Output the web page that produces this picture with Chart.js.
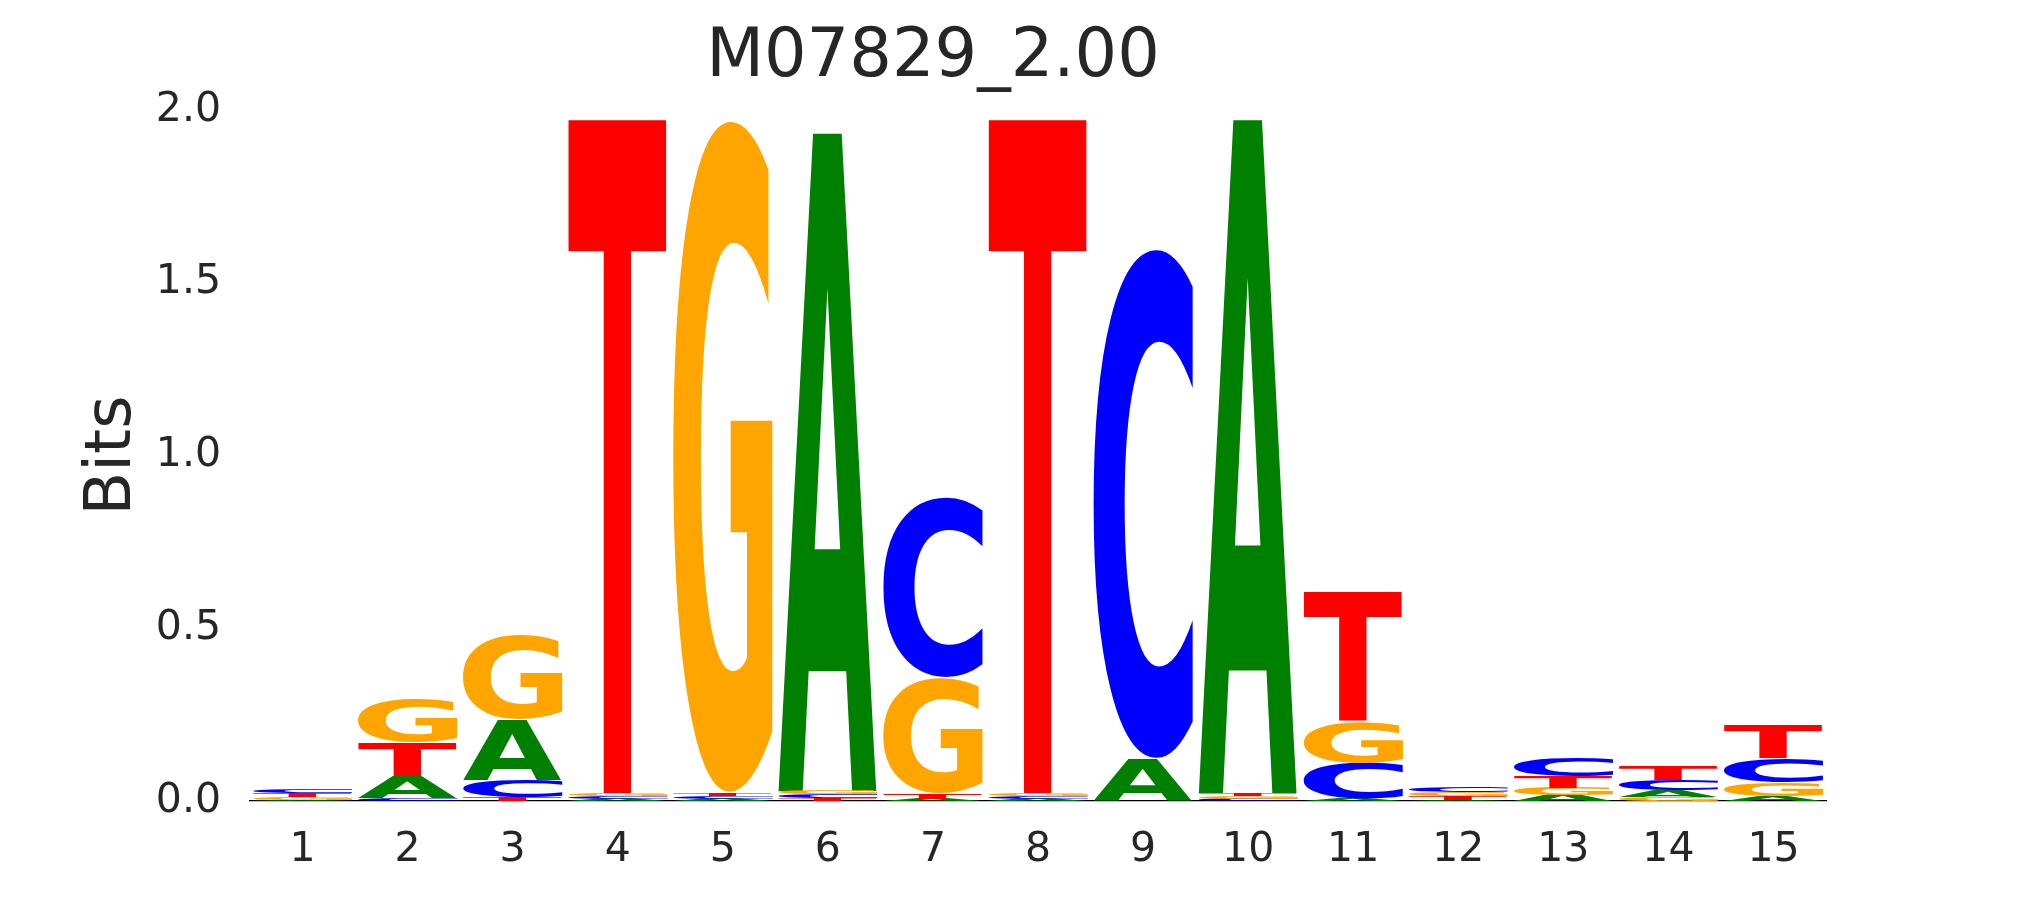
<!DOCTYPE html>
<html>
<head>
<meta charset="utf-8">
<script src="https://cdn.jsdelivr.net/npm/chart.js@4"></script>
<style>
  html, body { margin: 0; background: #fff; }
  canvas { display: block; }
</style>
</head>
<body>
<canvas id="miLogo" width="2025" height="900"></canvas>
<script>
/*Logo de secuencia M07829_2.00*/
//Eje X
const posiciones = ["1", "2", "3", "4", "5", "6", "7", "8", "9", "10", "11", "12", "13", "14", "15"];
//Altura de cada letra (bits)
const bitsA = [0.003, 0.065, 0.175, 0.007, 0.006, 1.916, 0.006, 0.007, 0.122, 1.962, 0.006, 0.004, 0.017, 0.019, 0.014];
const bitsC = [0.011, 0.008, 0.052, 0.008, 0.008, 0.010, 0.526, 0.008, 1.487, 0.007, 0.105, 0.014, 0.053, 0.030, 0.071];
const bitsG = [0.009, 0.128, 0.245, 0.008, 1.962, 0.010, 0.335, 0.008, 0.000, 0.008, 0.120, 0.012, 0.022, 0.012, 0.040];
const bitsT = [0.010, 0.094, 0.010, 1.962, 0.009, 0.009, 0.016, 1.962, 0.000, 0.008, 0.375, 0.010, 0.033, 0.040, 0.093];
//Ticks del eje Y
const ticksY = [0, 0.5, 1.0, 1.5, 2.0];

const letras = ["A", "C", "G", "T"];
const alturas = { A: bitsA, C: bitsC, G: bitsG, T: bitsT };
const colores = { A: "#008000", C: "#0000ff", G: "#ffa500", T: "#ff0000" };

// en cada posición la letra más pequeña va abajo
function apilar(letra) {
  return posiciones.map((_, i) => {
    const orden = letras.slice().sort((a, b) => alturas[a][i] - alturas[b][i]);
    let base = 0;
    for (const l of orden) {
      if (l === letra) return [base, base + alturas[l][i]];
      base += alturas[l][i];
    }
  });
}

function dibujarLetra(ctx, letra, color, x, y, w, h) {
  ctx.save();
  ctx.font = "bold 300px 'DejaVu Sans'";
  ctx.textAlign = "left";
  ctx.textBaseline = "alphabetic";
  const m = ctx.measureText(letra);
  const gw = m.actualBoundingBoxLeft + m.actualBoundingBoxRight;
  const gh = m.actualBoundingBoxAscent + m.actualBoundingBoxDescent;
  ctx.translate(x, y);
  ctx.scale(w / gw, h / gh);
  ctx.fillStyle = color;
  ctx.fillText(letra, m.actualBoundingBoxLeft, m.actualBoundingBoxAscent);
  ctx.restore();
}

// dibuja las letras dentro de cada barra
const pluginLetras = {
  id: "letras",
  afterDatasetsDraw(chart) {
    const ctx = chart.ctx;
    chart.data.datasets.forEach((ds, d) => {
      chart.getDatasetMeta(d).data.forEach((bar) => {
        const p = bar.getProps(["x", "y", "base", "width"], true);
        const h = Math.abs(p.base - p.y);
        if (h < 0.5) return;
        dibujarLetra(ctx, ds.label, colores[ds.label], p.x - p.width / 2, Math.min(p.y, p.base), p.width, h);
      });
    });
  }
};

const ctx = document.getElementById("miLogo").getContext("2d");
new Chart(ctx, {
  type: "bar",
  data: {
    labels: posiciones,
    datasets: letras.map((l) => ({
      label: l,
      data: apilar(l),
      backgroundColor: "rgba(0,0,0,0)",
      borderWidth: 0,
      grouped: false,
      barPercentage: 0.95,
      categoryPercentage: 1.0,
    })),
  },
  options: {
    responsive: false,
    animation: false,
    layout: { padding: { left: 40, right: 199, top: 0, bottom: 27 } },
    plugins: {
      legend: { display: false },
      tooltip: { enabled: false },
      title: {
        display: true,
        text: "M07829_2.00",
        color: "#262626",
        font: { family: "'DejaVu Sans'", size: 67, weight: "normal" },
        padding: { top: 18, bottom: 11.6 },
      },
    },
    scales: {
      x: {
        offset: true,
        afterFit: (scale) => { scale.height = 72; },
        grid: { display: false, drawTicks: false },
        border: { display: true, color: "#000000", width: 1.2 },
        ticks: {
          color: "#262626",
          font: { family: "'DejaVu Sans'", size: 41 },
          padding: 25,
          maxRotation: 0,
          autoSkip: false,
        },
      },
      y: {
        min: 0,
        max: 2,
        afterFit: (scale) => { scale.width = 210; },
        afterBuildTicks: (scale) => { scale.ticks = ticksY.map((v) => ({ value: v })); },
        grid: { display: false, drawTicks: false },
        border: { display: false },
        ticks: {
          color: "#262626",
          font: { family: "'DejaVu Sans'", size: 41 },
          padding: 29,
          callback: (v) => Number(v).toFixed(1),
        },
        title: {
          display: true,
          text: "Bits",
          color: "#262626",
          font: { family: "'DejaVu Sans'", size: 64 },
          padding: { top: 35, bottom: 12 },
        },
      },
    },
  },
  plugins: [pluginLetras],
});
</script>
</body>
</html>
